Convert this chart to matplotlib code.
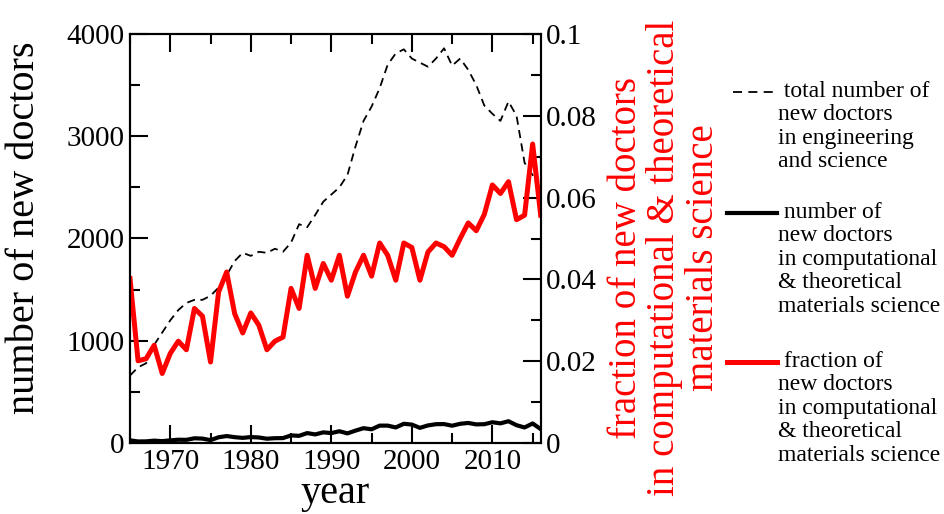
import numpy as np
import matplotlib
matplotlib.use('Agg')
from matplotlib import pyplot as plt
from matplotlib.lines import Line2D
from matplotlib.ticker import MultipleLocator

plt.rcParams['font.family'] = ['Liberation Serif', 'DejaVu Serif']

# values
years = list(range(1965, 2017))
total_doctors = [660, 740, 780, 960, 1080, 1200, 1300, 1370, 1400, 1400,
                 1440, 1520, 1640, 1780, 1860, 1830, 1870, 1860, 1900, 1870,
                 1960, 2140, 2110, 2230, 2360, 2430, 2500, 2620, 2900, 3150,
                 3290, 3470, 3700, 3810, 3850, 3760, 3720, 3680, 3760, 3860,
                 3690, 3760, 3650, 3500, 3300, 3220, 3150, 3340, 3200, 2740,
                 2620, 2450]
ctms_doctors = [26, 15, 16, 23, 18, 26, 32, 31, 46, 43,
                28, 56, 68, 57, 50, 58, 54, 42, 47, 48,
                74, 70, 97, 84, 104, 97, 115, 94, 121, 145,
                134, 170, 170, 152, 188, 180, 148, 172, 184, 185,
                169, 188, 196, 182, 184, 203, 192, 213, 174, 152,
                191, 136]
ctms_fraction = [0.0402, 0.0201, 0.0206, 0.0239, 0.0170, 0.0219, 0.0249, 0.0228, 0.0329, 0.0310,
                 0.0198, 0.0369, 0.0418, 0.0316, 0.0269, 0.0318, 0.0288, 0.0228, 0.0249, 0.0259,
                 0.0378, 0.0329, 0.0459, 0.0378, 0.0439, 0.0398, 0.0459, 0.0359, 0.0418, 0.0459,
                 0.0408, 0.0489, 0.0459, 0.0398, 0.0489, 0.0478, 0.0398, 0.0467, 0.0489, 0.0480,
                 0.0459, 0.0500, 0.0538, 0.0519, 0.0559, 0.0631, 0.0610, 0.0639, 0.0546, 0.0557,
                 0.0731, 0.0557]

W, H = 945, 514
fig = plt.figure(figsize=(W / 100, H / 100), dpi=100)
ax = fig.add_axes([130 / W, 1 - 443 / H, (540.7 - 130) / W, (443 - 34) / H])
ax2 = ax.twinx()

ax.plot(years, total_doctors, color='black', lw=1.3, dashes=(4.5, 3))
ax.plot(years, ctms_doctors, color='black', lw=3.0)
ax2.plot(years, ctms_fraction, color='#ff0000', lw=3.6)

ax.set_xlim(1965, 2016)
ax.set_ylim(0, 4000)
ax2.set_ylim(0, 0.1)
ax.xaxis.set_major_locator(MultipleLocator(10))
ax.xaxis.set_minor_locator(MultipleLocator(5))
ax.yaxis.set_major_locator(MultipleLocator(1000))
ax.yaxis.set_minor_locator(MultipleLocator(500))
ax2.yaxis.set_minor_locator(MultipleLocator(0.01))
ax2.set_yticks([0, 0.02, 0.04, 0.06, 0.08, 0.1])
ax2.set_yticklabels(['0', '0.02', '0.04', '0.06', '0.08', '0.1'])

for a in (ax, ax2):
    for s in a.spines.values():
        s.set_linewidth(1.5)
ax.tick_params(which='both', direction='in', top=True, width=1.5, labelsize=21, pad=4)
ax.tick_params(which='major', length=13)
ax.tick_params(which='minor', length=7)
ax.tick_params(axis='y', right=False)
ax2.tick_params(which='both', direction='in', width=1.5, labelsize=21, pad=4)
ax2.tick_params(which='major', length=13)
ax2.tick_params(which='minor', length=7)

fig.text(25 / W, 1 - 228 / H, 'number of new doctors', rotation=90,
         ha='center', va='center', fontsize=29)
fig.text(335 / W, 1 - 493 / H, 'year', ha='center', va='center', fontsize=29)
fig.text(665 / W, 1 - 258 / H,
         'fraction of new doctors\nin computational & theoretical\nmaterials science',
         rotation=90, ha='center', va='center', fontsize=28, color='#ff0000',
         linespacing=1.05, multialignment='center')

# legend drawn by hand to keep its layout
entries = [
    (92, 733, dict(color='black', lw=1.3, dashes=(5, 3.5)),
     ' total number of\nnew doctors\nin engineering\nand science'),
    (213, 727, dict(color='black', lw=3.0),
     ' number of\nnew doctors\nin computational\n& theoretical\nmaterials science'),
    (362, 727, dict(color='#ff0000', lw=3.6),
     ' fraction of\nnew doctors\nin computational\n& theoretical\nmaterials science'),
]
for ly, x0, style, label in entries:
    fig.add_artist(Line2D([x0 / W, 777 / W], [1 - ly / H, 1 - ly / H], **style))
    fig.text(778 / W, 1 - (ly - 11) / H, label, ha='left', va='top',
             fontsize=17, linespacing=1.15)

fig.savefig('out.png', dpi=100)
